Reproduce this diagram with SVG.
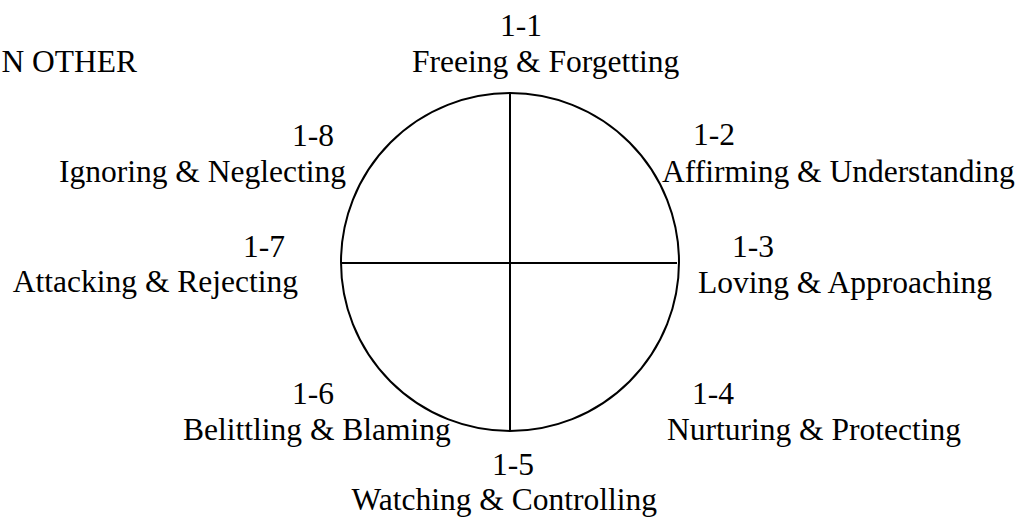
<svg xmlns="http://www.w3.org/2000/svg" width="1021" height="519" viewBox="0 0 1021 519">
<style>
text{font-family:"Liberation Serif","Times New Roman",serif;font-size:31.5px;fill:#000}
.ln{stroke:#000;stroke-width:2;fill:none}
</style>
<rect width="1021" height="519" fill="#fff"/>
<text x="137" y="72" text-anchor="end">N OTHER</text>
<g id="wheel">
<circle class="ln" cx="510" cy="262" r="169"/>
</g>
<g id="connectors">
<line class="ln" x1="510" y1="93" x2="510" y2="431"/>
<line class="ln" x1="341" y1="263" x2="677" y2="263"/>
</g>
<g id="n1-1"><text x="500" y="36">1-1</text><text x="412" y="72">Freeing &amp; Forgetting</text></g>
<g id="n1-2"><text x="693" y="145">1-2</text><text x="662" y="182">Affirming &amp; Understanding</text></g>
<g id="n1-3"><text x="732" y="257">1-3</text><text x="698" y="293">Loving &amp; Approaching</text></g>
<g id="n1-4"><text x="692" y="404">1-4</text><text x="667" y="440">Nurturing &amp; Protecting</text></g>
<g id="n1-5"><text x="492" y="475">1-5</text><text x="657" y="510" text-anchor="end">Watching &amp; Controlling</text></g>
<g id="n1-6"><text x="292" y="404">1-6</text><text x="183" y="440">Belittling &amp; Blaming</text></g>
<g id="n1-7"><text x="243" y="257">1-7</text><text x="298" y="292" text-anchor="end">Attacking &amp; Rejecting</text></g>
<g id="n1-8"><text x="292" y="146">1-8</text><text x="59" y="182">Ignoring &amp; Neglecting</text></g>
</svg>
